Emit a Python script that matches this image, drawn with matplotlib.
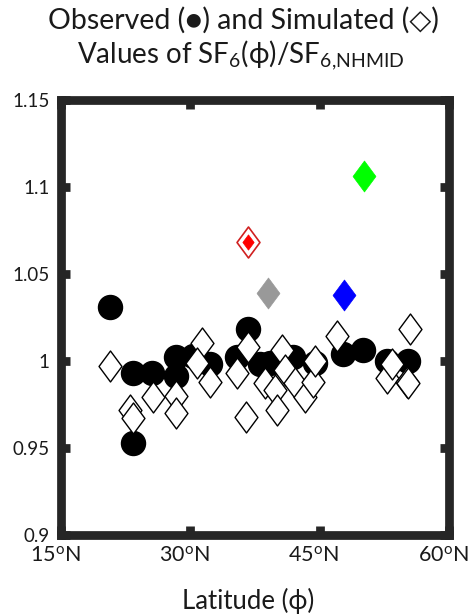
import matplotlib
matplotlib.use("Agg")
import matplotlib.pyplot as plt
from matplotlib.path import Path
from matplotlib.transforms import ScaledTranslation
import numpy as np

plt.rcParams['font.family'] = ['Lato', 'DejaVu Sans']
plt.rcParams['mathtext.fontset'] = 'custom'
plt.rcParams['mathtext.rm'] = 'Lato'
plt.rcParams['mathtext.it'] = 'Lato'
plt.rcParams['mathtext.bf'] = 'Lato:bold'

# Observed (filled circles)
obs_lat = [20.7, 23.4, 25.6, 28.3, 28.3, 30.3, 32.3, 36.7, 35.4, 38.1, 39.2,
           41.9, 44.5, 47.7, 50.0, 52.8, 55.2, 23.3]
obs_val = [1.031, 0.993, 0.993, 1.002, 0.991, 1.003, 0.998, 1.018, 1.002, 0.998, 0.999,
           1.002, 0.999, 1.004, 1.006, 1.000, 1.000, 0.953]

# Simulated (open diamonds)
sim_lat = [20.7, 31.4, 30.8, 32.3, 25.7, 28.3, 28.3, 23.0, 23.3, 35.4, 36.7, 36.4, 38.7,
           47.0, 55.5, 52.8, 55.1, 55.3, 53.4, 40.6, 41.0, 39.8, 40.0, 42.1, 43.3, 44.2, 44.5]
sim_val = [0.997, 1.010, 0.999, 0.988, 0.979, 0.980, 0.970, 0.972, 0.967, 0.993, 1.008, 0.968, 0.987,
           1.014, 1.018, 0.990, 0.988, 0.987, 0.998, 1.006, 0.995, 0.983, 0.972, 0.987, 0.979, 0.988, 1.000]

# Highlighted simulated points
hl_lat = [36.7, 39.0, 47.8, 50.1]
hl_val = [1.068, 1.039, 1.038, 1.106]
hl_col = ['red', '#999999', '#0000ff', '#00ff00']

yticks = [0.9, 0.95, 1.0, 1.05, 1.1, 1.15]
ytick_labels = ['0.9', '0.95', '1', '1.05', '1.1', '1.15']
xticks = [15, 30, 45, 60]
xtick_labels = [r'15$^{\mathrm{o}}$N', r'30$^{\mathrm{o}}$N', r'45$^{\mathrm{o}}$N', r'60$^{\mathrm{o}}$N']

diamond = Path([(0, 1), (0.74, 0), (0, -1), (-0.74, 0), (0, 1)],
               [Path.MOVETO, Path.LINETO, Path.LINETO, Path.LINETO, Path.CLOSEPOLY])

fig = plt.figure(figsize=(4.69, 6.16), dpi=100)
ax = fig.add_axes([61/469, 1-535/616, (449-61)/469, (535-99.5)/616])

ax.plot(obs_lat, obs_val, linestyle='none', marker='o', markersize=17.3,
        color='black', zorder=2)
ax.plot(sim_lat, sim_val, linestyle='none', marker=diamond, markersize=22.3,
        markerfacecolor='white', markeredgecolor='black', markeredgewidth=1.0, zorder=3)
for la, va, c in zip(hl_lat, hl_val, hl_col):
    if c == 'red':
        ax.plot([la], [va], linestyle='none', marker=diamond, markersize=22.3,
                markerfacecolor='white', markeredgecolor='#d02020', markeredgewidth=1.2, zorder=4)
        ax.plot([la], [va], linestyle='none', marker=diamond, markersize=11,
                markerfacecolor='red', markeredgecolor='red', markeredgewidth=0.5, zorder=5)
    else:
        ax.plot([la], [va], linestyle='none', marker=diamond, markersize=22.3,
                markerfacecolor=c, markeredgecolor=c, markeredgewidth=0.5, zorder=4)

ax.set_xlim(15, 60)
ax.set_ylim(0.9, 1.15)
ax.set_xticks(xticks)
ax.set_xticklabels(xtick_labels, fontsize=15.5)
ax.set_yticks(yticks)
ax.set_yticklabels(ytick_labels, fontsize=13.5)
for s in ax.spines.values():
    s.set_linewidth(6.3)
    s.set_color('#262626')
ax.tick_params(axis='both', direction='in', length=6.5, width=6.3, color='#262626',
               top=True, right=True, labelcolor='#1a1a1a')
ax.tick_params(axis='y', pad=8)
ax.tick_params(axis='x', pad=8)
shift = ScaledTranslation(-6/100, 0, fig.dpi_scale_trans)
for lbl in ax.get_xticklabels():
    lbl.set_transform(lbl.get_transform() + shift)

fig.text(0.518, 1-29/616, 'Observed (\u25cf) and Simulated (\u25c7)', ha='center',
         va='baseline', fontsize=20.5, color='#1a1a1a', family=['Lato', 'DejaVu Sans'])
fig.text(0.513, 1-63/616, r'Values of SF$_6$(ϕ)/SF$_{6{,}\mathrm{NHMID}}$', ha='center',
         va='baseline', fontsize=20, color='#1a1a1a')
fig.text(0.529, 1-609/616, 'Latitude (ϕ)', ha='center', va='baseline', fontsize=18.5,
         color='#1a1a1a')

fig.savefig('out.png', dpi=100)
